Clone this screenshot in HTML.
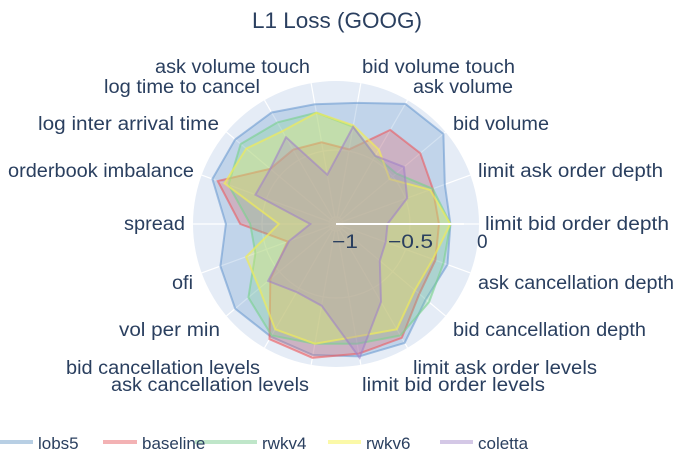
<!DOCTYPE html>
<html><head><meta charset="utf-8"><style>
html,body{margin:0;padding:0;background:#fff;width:699px;height:459px;overflow:hidden}
svg{display:block;font-family:"Liberation Sans",Arial,sans-serif}
text{fill:#2a3f5f}
</style></head><body>
<svg id="s" width="699" height="459" viewBox="0 0 699 459">
<text x="337" y="28" font-size="22" text-anchor="middle" textLength="170" lengthAdjust="spacingAndGlyphs">L1 Loss (GOOG)</text>
<circle cx="336" cy="224" r="143" fill="#e5ecf6"/>
<g id="grid" stroke="#fff" stroke-width="1.2" fill="none"></g>
<g id="polys"></g>
<line x1="336" y1="224" x2="464" y2="224" stroke="#fff" stroke-width="2"/>
<g font-size="19">
<text x="332" y="248" textLength="26" lengthAdjust="spacingAndGlyphs">−1</text>
<text x="388" y="248" textLength="45" lengthAdjust="spacingAndGlyphs">−0.5</text>
<text x="477" y="248">0</text>
<text x="362" y="73" textLength="153" lengthAdjust="spacingAndGlyphs">bid volume touch</text>
<text x="413" y="93" textLength="100" lengthAdjust="spacingAndGlyphs">ask volume</text>
<text x="453" y="130" textLength="96" lengthAdjust="spacingAndGlyphs">bid volume</text>
<text x="478" y="177" textLength="185" lengthAdjust="spacingAndGlyphs">limit ask order depth</text>
<text x="485" y="230" textLength="184" lengthAdjust="spacingAndGlyphs">limit bid order depth</text>
<text x="478" y="289" textLength="196" lengthAdjust="spacingAndGlyphs">ask cancellation depth</text>
<text x="453" y="336" textLength="193" lengthAdjust="spacingAndGlyphs">bid cancellation depth</text>
<text x="413" y="374" textLength="184" lengthAdjust="spacingAndGlyphs">limit ask order levels</text>
<text x="362" y="391" textLength="183" lengthAdjust="spacingAndGlyphs">limit bid order levels</text>
<text x="111" y="391" textLength="198" lengthAdjust="spacingAndGlyphs">ask cancellation levels</text>
<text x="66" y="374" textLength="194" lengthAdjust="spacingAndGlyphs">bid cancellation levels</text>
<text x="119" y="336" textLength="101" lengthAdjust="spacingAndGlyphs">vol per min</text>
<text x="172" y="289" textLength="21" lengthAdjust="spacingAndGlyphs">ofi</text>
<text x="124" y="230" textLength="61" lengthAdjust="spacingAndGlyphs">spread</text>
<text x="8" y="177" textLength="186" lengthAdjust="spacingAndGlyphs">orderbook imbalance</text>
<text x="38" y="130" textLength="181" lengthAdjust="spacingAndGlyphs">log inter arrival time</text>
<text x="104" y="93" textLength="156" lengthAdjust="spacingAndGlyphs">log time to cancel</text>
<text x="155" y="73" textLength="155" lengthAdjust="spacingAndGlyphs">ask volume touch</text>
</g>
<g stroke-width="4">
<line x1="0" y1="442" x2="33" y2="442" stroke="#b8cfe4"/>
<line x1="103" y1="442" x2="137" y2="442" stroke="#f3b2b4"/>
<line x1="195" y1="442" x2="257" y2="442" stroke="#bfe6c9"/>
<line x1="328" y1="442" x2="361" y2="442" stroke="#fbf9a8"/>
<line x1="440" y1="442" x2="473" y2="442" stroke="#d4c8e6"/>
</g>
<g font-size="17">
<text x="38" y="449">lobs5</text>
<text x="142" y="449">baseline</text>
<text x="262" y="449">rwkv4</text>
<text x="366" y="449">rwkv6</text>
<text x="478" y="449">coletta</text>
</g>
</svg>
<script>
var cx=336,cy=224,R=143,ns="http://www.w3.org/2000/svg";
var g=document.getElementById('grid');
function el(t,a,p){var e=document.createElementNS(ns,t);for(var k in a)e.setAttribute(k,a[k]);p.appendChild(e);return e;}
[7,74].forEach(function(r){el('circle',{cx:cx,cy:cy,r:r},g);});
for(var i=0;i<18;i++){var a=i*20*Math.PI/180;el('line',{x1:cx,y1:cy,x2:cx+R*Math.cos(a),y2:cy-R*Math.sin(a)},g);}
var data=[
["rgba(100,150,205,0.28)","rgba(100,150,205,0.55)",[0.8,0.81,0.98,0.97,0.86,0.85,0.9,0.92,0.92,0.77,0.86,0.92,0.91,0.93,0.94,0.96,0.82,0.83]],
["rgba(235,90,95,0.28)","rgba(235,90,95,0.6)",[0.72,0.72,0.77,0.76,0.53,0.58,0.6,0.6,0.88,0.67,0.36,0.6,0.93,0.95,0.92,0.92,0.76,0.74]],
["rgba(120,210,140,0.28)","rgba(120,210,140,0.6)",[0.8,0.72,0.55,0.55,0.69,0.79,0.82,0.87,0.8,0.6,0.6,0.8,0.9,0.85,0.85,0.9,0.85,0.8]],
["rgba(245,245,90,0.3)","rgba(240,235,90,0.7)",[0.8,0.7,0.49,0.6,0.7,0.79,0.75,0.82,0.83,0.4,0.67,0.7,0.85,0.85,0.8,0.85,0.72,0.72]],
["rgba(160,130,200,0.28)","rgba(160,130,200,0.6)",[0.36,0.53,0.62,0.55,0.69,0.35,0.7,0.6,0.6,0.18,0.35,0.62,0.55,0.58,0.95,0.63,0.4,0.37]]
];
var P=document.getElementById('polys');
data.forEach(function(d){var pts=d[2].map(function(v,i){var a=i*20*Math.PI/180;return (cx+v*R*Math.cos(a)).toFixed(1)+","+(cy-v*R*Math.sin(a)).toFixed(1);}).join(" ");
el('polygon',{points:pts,fill:d[0],stroke:d[1],'stroke-width':2},P);});
</script>
</body></html>
